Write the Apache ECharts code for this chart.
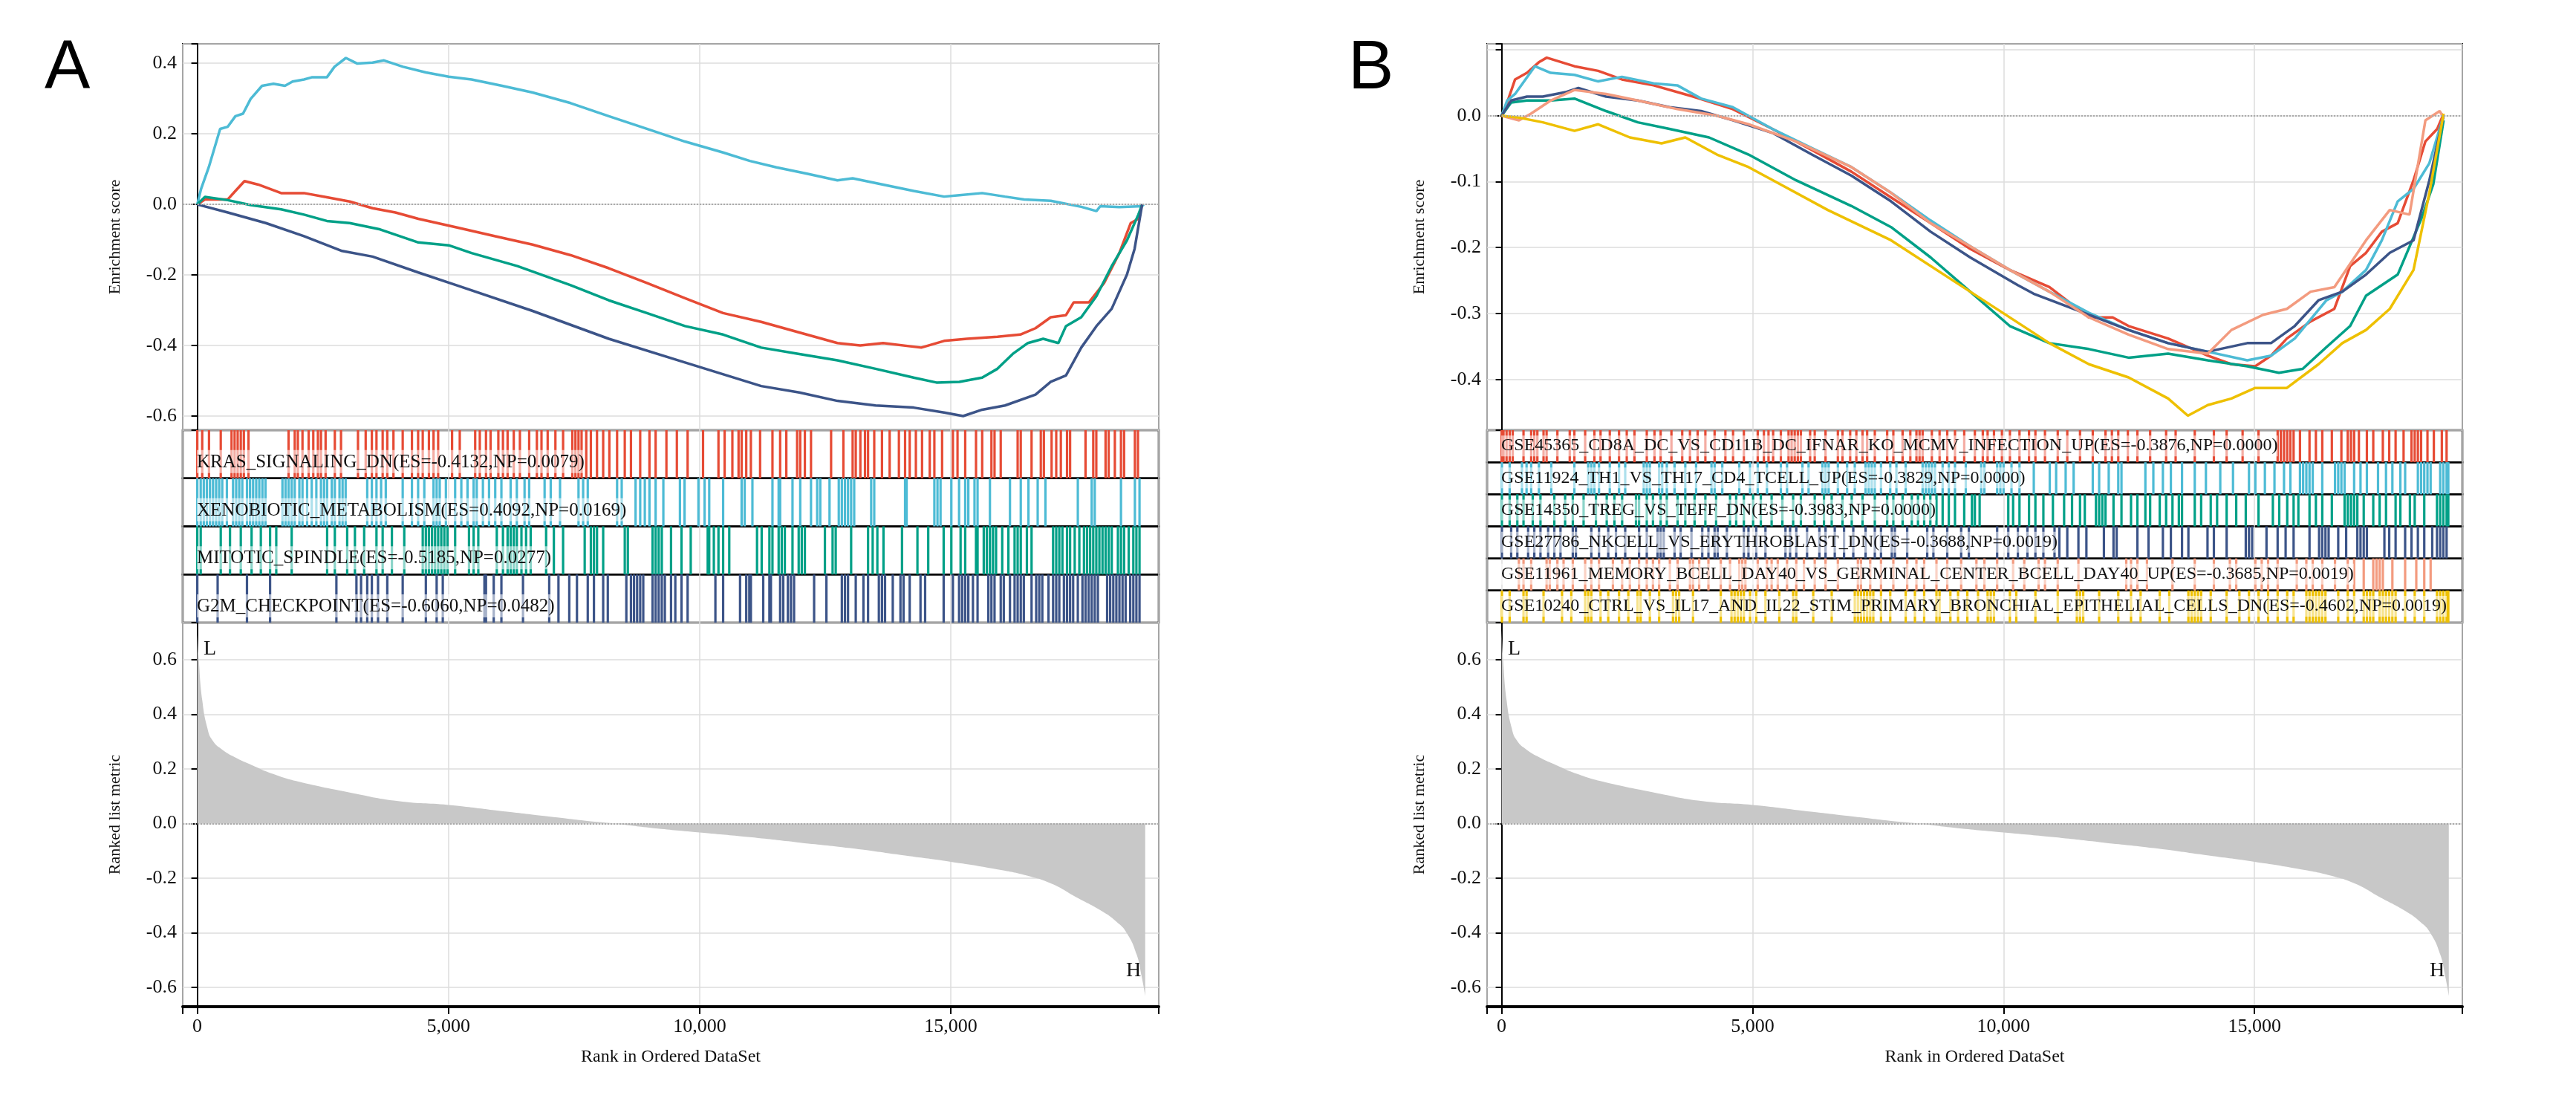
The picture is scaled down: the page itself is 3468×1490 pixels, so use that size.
<!DOCTYPE html>
<html><head><meta charset="utf-8">
<script src="https://cdn.jsdelivr.net/npm/echarts@6/dist/echarts.min.js"></script>
<style>html,body{margin:0;padding:0;background:#fff}#c{width:3468px;height:1490px}</style>
</head><body><div id="c"></div>
<script>
// ---------- DATA ----------
const xTicks = [0, 5000, 10000, 15000];
const esTicksA = ["-0.6","-0.4","-0.2","0.0","0.2","0.4"];
const esTicksB = ["-0.4","-0.3","-0.2","-0.1","0.0"];
const rankTicks = ["-0.6","-0.4","-0.2","0.0","0.2","0.4","0.6"];
const rankX = [0,30,100,200,300,500,800,1000,1500,2000,3000,4000,5000,6000,7000,8000,8300,9000,10000,11000,12000,13000,14000,15000,16000,16500,17000,17500,18000,18300,18500,18700,18800,18870];
const rankY = [0.71,0.6,0.45,0.35,0.305,0.27,0.238,0.221,0.182,0.154,0.115,0.082,0.068,0.047,0.026,0.005,0,-0.015,-0.033,-0.05,-0.07,-0.09,-0.115,-0.14,-0.17,-0.19,-0.22,-0.27,-0.32,-0.36,-0.40,-0.48,-0.56,-0.63];

const namesA = ["KRAS_SIGNALING_DN(ES=-0.4132,NP=0.0079)","XENOBIOTIC_METABOLISM(ES=0.4092,NP=0.0169)","MITOTIC_SPINDLE(ES=-0.5185,NP=0.0277)","G2M_CHECKPOINT(ES=-0.6060,NP=0.0482)"];
const colorsA = ["#E64B35","#4DBBD5","#00A087","#3C5488"];
const esA_kras = [[0,0],[152,0.014],[607,0.014],[759,0.038],[940,0.066],[1214,0.056],[1669,0.032],[2124,0.032],[2579,0.02],[3034,0.008],[3489,-0.011],[3944,-0.023],[4400,-0.041],[5158,-0.065],[5917,-0.09],[6675,-0.114],[7433,-0.144],[8192,-0.181],[8950,-0.223],[9709,-0.266],[10467,-0.308],[11226,-0.333],[11984,-0.363],[12743,-0.393],[13198,-0.4],[13653,-0.393],[14412,-0.406],[14867,-0.387],[15322,-0.381],[15929,-0.375],[16384,-0.369],[16687,-0.351],[16990,-0.32],[17293,-0.314],[17445,-0.278],[17749,-0.278],[18052,-0.223],[18355,-0.138],[18583,-0.053],[18734,-0.041],[18810,0.0]];
const esA_xeno = [[0,0],[76,0.044],[228,0.105],[455,0.214],[607,0.22],[759,0.25],[910,0.257],[1062,0.299],[1289,0.336],[1517,0.342],[1745,0.336],[1896,0.348],[2124,0.354],[2276,0.36],[2579,0.36],[2731,0.39],[2958,0.415],[3186,0.399],[3489,0.402],[3717,0.408],[4096,0.39],[4551,0.374],[5006,0.362],[5461,0.354],[6068,0.336],[6675,0.317],[7433,0.287],[8192,0.25],[8950,0.214],[9709,0.178],[10467,0.147],[11000,0.123],[11529,0.105],[12136,0.087],[12743,0.068],[13046,0.074],[13653,0.056],[14260,0.038],[14867,0.022],[15170,0.026],[15625,0.032],[16080,0.022],[16460,0.014],[16990,0.010],[17597,-0.007],[17900,-0.019],[17976,-0.005],[18355,-0.008],[18810,-0.005],[18840,0.0]];
const esA_mito = [[0,0],[152,0.021],[607,0.012],[1062,-0.002],[1669,-0.014],[2124,-0.029],[2579,-0.047],[3034,-0.053],[3641,-0.071],[4400,-0.108],[5006,-0.116],[5461,-0.138],[6372,-0.175],[7433,-0.229],[8192,-0.272],[8950,-0.308],[9709,-0.345],[10467,-0.369],[11226,-0.406],[11984,-0.424],[12743,-0.442],[13501,-0.466],[14260,-0.491],[14715,-0.505],[15170,-0.503],[15625,-0.491],[15929,-0.466],[16232,-0.424],[16535,-0.393],[16839,-0.381],[17142,-0.393],[17293,-0.345],[17597,-0.32],[17900,-0.26],[18203,-0.175],[18507,-0.102],[18734,-0.029],[18810,0]];
const esA_g2m = [[0,0],[607,-0.023],[1365,-0.053],[2124,-0.09],[2882,-0.132],[3489,-0.148],[4400,-0.193],[5158,-0.229],[6675,-0.302],[8192,-0.381],[9709,-0.448],[11226,-0.515],[11984,-0.533],[12743,-0.557],[13501,-0.57],[14260,-0.576],[14867,-0.59],[15246,-0.6],[15625,-0.582],[16080,-0.57],[16687,-0.539],[16990,-0.503],[17293,-0.485],[17597,-0.406],[17900,-0.345],[18203,-0.296],[18507,-0.199],[18659,-0.126],[18810,0]];

const hitsA_kras = [0,98,233,467,682,743,804,866,927,1019,1817,1940,2002,2094,2217,2309,2401,2462,2554,2738,2861,3199,3352,3475,3567,3690,3782,3905,4089,4273,4396,4488,4611,4703,4795,5072,5225,5532,5624,5747,5839,5993,6085,6177,6300,6422,6607,6760,6852,6975,7129,7282,7466,7528,7589,7650,7743,7835,7957,8080,8203,8357,8510,8633,8817,9001,9124,9339,9547,9761,10068,10375,10498,10652,10775,10836,10928,11020,11204,11450,11603,11726,11941,12003,12095,12217,12617,12862,13046,13108,13200,13292,13353,13476,13630,13783,13967,14090,14182,14305,14428,14581,14673,14827,15042,15134,15287,15502,15625,15809,15871,15994,16331,16393,16608,16792,16853,17007,17099,17191,17314,17375,17682,17836,17897,18081,18143,18266,18388,18450,18665,18726];
const hitsA_xeno = [0,68,129,190,252,313,375,436,497,589,712,774,835,896,989,1050,1111,1173,1234,1296,1357,1695,1756,1817,1879,1940,2032,2094,2186,2278,2370,2462,2524,2585,2677,2738,2831,2892,2953,3383,3475,3567,3659,3752,4089,4273,4396,4519,4703,4765,4826,4949,5133,5256,5379,5501,5563,5686,5808,5931,6054,6238,6361,6515,6607,6914,7036,7221,7589,7681,7773,8357,8449,8725,8817,8909,9001,9124,9278,9608,9700,9976,10099,10191,10468,10836,10897,11051,11450,11573,11603,11849,12003,12217,12340,12402,12586,12770,12831,12893,12954,13016,13077,13415,13476,14090,14121,14673,14735,14796,15011,15165,15287,15349,15472,15533,15779,16178,16393,16546,16730,16884,17529,17805,17866,18388,18665,18757];
const hitsA_mito = [0,68,467,651,866,1081,1265,1449,1572,1879,2585,2738,2984,3138,3322,3567,3690,3874,4120,4488,4550,4611,4673,4734,4795,4857,4918,4980,5133,5409,5501,5594,5962,6085,6177,6238,6300,6361,6453,6545,6637,6944,7098,7282,7712,7835,7896,7957,8080,8510,8571,9063,9124,9185,9247,9431,9639,9823,10161,10191,10283,10375,10468,10590,11143,11235,11389,11450,11573,11634,11696,11849,11972,12033,12095,12494,12647,12709,13016,13353,13445,13538,13660,14029,14336,14551,14858,15011,15195,15287,15502,15533,15656,15717,15779,15840,15901,16024,16147,16270,16331,16393,16515,16608,17037,17099,17160,17222,17314,17375,17467,17559,17651,17713,17774,17836,17897,17958,18020,18081,18143,18204,18327,18388,18450,18542,18634,18695,18757];
const hitsA_g2m = [0,405,989,1449,2769,3168,3260,3383,3475,3598,3782,4089,4550,4765,4887,5716,5747,5901,6054,6484,7006,7190,7405,7558,7773,7896,8080,8172,8541,8633,8694,8756,8817,8878,9063,9124,9185,9247,9308,9431,9516,9639,9761,10314,10468,10805,10928,10989,11020,11266,11389,11419,11603,11665,11757,11818,11880,12279,12524,12831,12893,12954,13108,13261,13353,13568,13630,13691,13845,13998,14059,14182,14397,14489,14858,15042,15165,15226,15287,15349,15441,15533,15748,15809,15871,15994,16055,16178,16270,16331,16393,16454,16608,16700,16761,16822,16945,17037,17099,17160,17252,17314,17375,17436,17529,17621,17682,17744,17805,17866,17928,18112,18173,18235,18296,18357,18419,18480,18572,18634,18695,18757];

const namesB = ["GSE45365_CD8A_DC_VS_CD11B_DC_IFNAR_KO_MCMV_INFECTION_UP(ES=-0.3876,NP=0.0000)","GSE11924_TH1_VS_TH17_CD4_TCELL_UP(ES=-0.3829,NP=0.0000)","GSE14350_TREG_VS_TEFF_DN(ES=-0.3983,NP=0.0000)","GSE27786_NKCELL_VS_ERYTHROBLAST_DN(ES=-0.3688,NP=0.0019)","GSE11961_MEMORY_BCELL_DAY40_VS_GERMINAL_CENTER_BCELL_DAY40_UP(ES=-0.3685,NP=0.0019)","GSE10240_CTRL_VS_IL17_AND_IL22_STIM_PRIMARY_BRONCHIAL_EPITHELIAL_CELLS_DN(ES=-0.4602,NP=0.0019)"];
const colorsB = ["#E64B35","#4DBBD5","#00A087","#3C5488","#F39B7F","#EEC000"];
const esB_1 = [[0,0],[110,0.02],[268,0.055],[505,0.065],[741,0.081],[899,0.088],[1451,0.075],[1924,0.068],[2397,0.055],[3028,0.046],[3816,0.029],[4605,0.01],[5394,-0.02],[6182,-0.052],[6970,-0.085],[7759,-0.124],[8547,-0.163],[9336,-0.202],[10124,-0.234],[10913,-0.26],[11701,-0.306],[12174,-0.306],[12490,-0.319],[13278,-0.338],[14067,-0.364],[14540,-0.377],[15013,-0.38],[15328,-0.364],[15644,-0.338],[16117,-0.312],[16590,-0.293],[16905,-0.228],[17221,-0.208],[17536,-0.176],[17852,-0.163],[18167,-0.098],[18404,-0.039],[18640,-0.02],[18766,0.003]];
const esB_2 = [[0,0],[110,0.023],[268,0.033],[662,0.075],[978,0.065],[1451,0.062],[1924,0.052],[2397,0.059],[3028,0.049],[3501,0.046],[3974,0.026],[4605,0.013],[5394,-0.02],[6182,-0.049],[6970,-0.078],[7759,-0.117],[8547,-0.159],[9336,-0.198],[10124,-0.234],[10913,-0.267],[11701,-0.299],[12490,-0.325],[13278,-0.345],[14067,-0.358],[14855,-0.371],[15328,-0.364],[15801,-0.338],[16432,-0.28],[16748,-0.267],[17221,-0.234],[17536,-0.189],[17852,-0.13],[18167,-0.111],[18483,-0.072],[18766,0]];
const esB_3 = [[0,0],[189,0.02],[505,0.023],[978,0.023],[1451,0.026],[2082,0.007],[2712,-0.01],[3343,-0.02],[4132,-0.033],[4920,-0.059],[5866,-0.098],[6970,-0.137],[7759,-0.169],[8547,-0.215],[9336,-0.267],[10124,-0.319],[10913,-0.345],[11701,-0.354],[12490,-0.367],[13278,-0.361],[14067,-0.371],[14855,-0.38],[15486,-0.39],[15959,-0.384],[16432,-0.351],[16905,-0.319],[17221,-0.273],[17852,-0.241],[18325,-0.156],[18561,-0.104],[18766,-0.007]];
const esB_4 = [[0,0],[189,0.023],[505,0.029],[820,0.029],[1293,0.036],[1530,0.042],[2082,0.029],[2712,0.023],[3343,0.013],[3974,0.007],[4605,-0.007],[5394,-0.026],[6182,-0.059],[6970,-0.091],[7759,-0.13],[8547,-0.176],[9336,-0.215],[10282,-0.257],[10598,-0.27],[11701,-0.302],[12490,-0.325],[13278,-0.345],[14067,-0.358],[14855,-0.345],[15328,-0.345],[15801,-0.319],[16274,-0.28],[16748,-0.267],[17221,-0.241],[17694,-0.208],[18167,-0.189],[18483,-0.098],[18766,0]];
const esB_5 = [[0,0],[347,-0.007],[584,0.003],[978,0.023],[1451,0.039],[2082,0.033],[2712,0.023],[3501,0.01],[4290,0],[4920,-0.013],[5866,-0.039],[6970,-0.078],[7759,-0.117],[8547,-0.163],[9336,-0.198],[10124,-0.234],[10913,-0.267],[11701,-0.306],[12490,-0.332],[13278,-0.354],[14067,-0.361],[14540,-0.325],[15170,-0.302],[15644,-0.293],[16117,-0.267],[16590,-0.26],[17221,-0.189],[17694,-0.143],[18088,-0.15],[18404,-0.007],[18688,0.007],[18766,-0.003]];
const esB_6 = [[0,0],[347,-0.003],[820,-0.01],[1451,-0.023],[1924,-0.013],[2555,-0.033],[3186,-0.042],[3659,-0.033],[4290,-0.059],[4920,-0.078],[5551,-0.104],[6497,-0.143],[7759,-0.189],[9336,-0.267],[10913,-0.345],[11701,-0.377],[12490,-0.397],[13278,-0.429],[13672,-0.455],[14067,-0.439],[14540,-0.429],[15013,-0.413],[15644,-0.413],[16274,-0.377],[16748,-0.345],[17221,-0.325],[17694,-0.293],[18167,-0.234],[18483,-0.117],[18766,0.003]];

const hitsB_1 = [0,37,98,160,221,436,589,651,712,835,896,1111,1357,1449,1664,1848,1971,2155,2339,2493,2646,2892,3045,3168,3383,3598,3752,3905,4059,4243,4458,4611,4826,5102,5225,5317,5409,5563,5716,5778,5839,5901,5962,6146,6238,6453,6699,6791,6944,7067,7190,7282,7435,7681,7804,7988,8142,8264,8326,8387,8571,8725,8878,9032,9216,9428,9586,9682,9809,9967,10126,10317,10507,10634,10825,11079,11269,11523,11777,12031,12158,12285,12476,12666,12920,13238,13428,13809,14190,14444,14762,15079,15460,15524,15587,15651,15714,15778,15905,16095,16222,16349,16540,16730,16857,16921,16984,17079,17238,17365,17556,17683,17810,17969,18127,18191,18254,18318,18445,18572,18731,18826];
const hitsB_2 = [6,160,405,497,589,743,989,1449,1725,1787,1848,1940,2155,2339,2462,2831,2892,2953,3138,3199,3291,3445,3659,3874,4181,4243,4396,4734,4949,5102,5286,5563,5686,5993,6115,6392,6453,6515,6699,6883,7036,7251,7313,7374,7435,7558,7742,7865,8050,8387,8449,8510,8571,8633,8786,8909,9032,9247,9555,9618,9872,9936,9999,10158,10317,10602,10920,11047,11237,11396,11777,11904,12095,12285,12349,12825,12984,13174,13333,13555,13809,14031,14317,14571,14889,15016,15206,15397,15587,15714,15905,15968,16032,16095,16159,16349,16603,16667,16730,16794,16984,17111,17238,17460,17619,17746,17905,18000,18254,18318,18381,18445,18508,18699,18762,18826,18860];
const hitsB_3 = [6,160,313,436,620,774,1050,1265,1418,1633,1879,2094,2247,2401,2677,2738,2892,3015,3168,3291,3506,3659,3844,4059,4273,4550,4673,4826,5010,5164,5379,5594,5808,5962,6238,6422,6576,6791,6975,7190,7435,7681,7804,7988,8172,8295,8418,8541,8663,8786,8909,9032,9216,9370,9428,9523,10094,10190,10317,10507,10634,10793,10983,11206,11364,11523,11618,11841,11904,11968,12031,12190,12349,12539,12666,12825,12920,13111,13238,13365,13492,13555,13809,13936,14127,14254,14444,14635,14825,15079,15365,15492,15651,15778,15873,16095,16222,16349,16540,16794,16857,16921,16984,17048,17175,17365,17492,17619,17810,17905,18095,18191,18381,18635,18699,18762,18826,18860];
const hitsB_4 = [6,190,313,528,651,774,927,1050,1173,1418,1480,1787,1940,2124,2278,2462,2738,2892,3107,3168,3230,3445,3567,3782,3997,4120,4243,4304,4488,4826,4918,5072,5256,5655,5747,5870,6085,6330,6453,6637,6822,7006,7251,7435,7558,7773,7835,8080,8479,8602,8878,9155,9308,9872,10094,10285,10475,10634,10793,11015,11111,11269,11491,11650,11999,12190,12253,12666,12888,13174,13333,13555,13682,14063,14190,14444,14825,14889,14952,15238,15460,15619,15778,16095,16286,16349,16413,16476,16667,16825,17048,17111,17175,17238,17587,17683,17810,18000,18127,18254,18381,18540,18635,18699,18762,18826];
const hitsB_5 = [344,436,589,896,958,1111,1234,1418,1664,1787,1940,2217,2401,2554,2738,2892,3015,3138,3352,3506,3752,3813,3936,4120,4366,4550,4734,4795,4857,5102,5286,5379,5501,5686,5870,6023,6238,6453,6699,7098,7159,7343,7558,7804,8080,8264,8418,8663,8878,9155,9459,9618,9872,10190,10412,10698,10825,11079,11491,12444,12539,12666,12857,13365,13809,14190,14508,14635,15016,15143,15270,15460,15841,16032,16159,16349,16603,16857,16984,17175,17365,17429,17492,17556,17746,18000,18222,18381,18508];
const hitsB_6 = [6,160,436,497,835,1203,1388,1664,1725,1787,1971,2124,2339,2524,2708,2769,2953,3138,3414,3475,3537,3813,4366,4580,4642,4703,4765,4826,4949,5072,5256,5532,5808,5870,6208,6576,7036,7098,7159,7221,7282,7343,7405,7558,7742,8050,8234,8418,8663,8725,8940,9093,9278,9491,9682,9745,9809,10126,10253,10634,11079,11460,11523,11587,11904,12285,12539,12730,13111,13301,13682,13746,13809,13873,13936,14127,14444,14698,14889,15079,15270,15460,15651,15778,16032,16095,16159,16222,16286,16349,16413,16667,16857,16984,17175,17238,17302,17365,17492,17556,17619,17683,17746,17810,18000,18191,18381,18635,18699,18762,18826,18860];

// ---------- LAYOUT ----------
const SERIF = '"Liberation Serif","Times New Roman",serif';
const XMIN = -290, XMAX = 19140;
const ES_TOP = 59, ES_H = 520, STR_TOP = 579, STR_H = 259, RK_TOP = 838, RK_H = 517;
const panels = [
  {left:246, width:1314, es:[esA_kras,esA_xeno,esA_mito,esA_g2m], hits:[hitsA_kras,hitsA_xeno,hitsA_mito,hitsA_g2m], names:namesA, colors:colorsA, ymin:-0.64, ymax:0.455, ticks:esTicksA, letter:'A', lx:60, fs:25},
  {left:2002, width:1313, es:[esB_1,esB_2,esB_3,esB_4,esB_5,esB_6], hits:[hitsB_1,hitsB_2,hitsB_3,hitsB_4,hitsB_5,hitsB_6], names:namesB, colors:colorsB, ymin:-0.477, ymax:0.109, ticks:esTicksB, letter:'B', lx:1815, fs:24}
];

const grid=[], xAxis=[], yAxis=[], series=[], graphic=[];
function fmtList(list){return v=>{const s=(Math.abs(v)<1e-9?0:v).toFixed(1); return list.includes(s)&&Math.abs(v-parseFloat(s))<1e-6 ? s : '';};}
const axisLab = {fontFamily:SERIF, fontSize:26, color:'#111'};
const gridLine = {show:true, lineStyle:{color:'#dcdcdc', width:1.5}};

panels.forEach(p=>{
  let gi = grid.length;
  grid.push({left:p.left, top:ES_TOP, width:p.width, height:ES_H, show:true, borderColor:'#000', borderWidth:2});
  xAxis.push({gridIndex:gi, type:'value', min:XMIN, max:XMAX, splitNumber:4, axisLabel:{show:false}, axisTick:{show:false}, axisLine:{show:false}, splitLine:gridLine});
  yAxis.push({gridIndex:gi, type:'value', min:p.ymin, max:p.ymax, splitNumber:6, name:'Enrichment score', nameLocation:'middle', nameGap:80,
    nameTextStyle:{fontFamily:SERIF, fontSize:22, color:'#111'},
    axisLine:{show:true, lineStyle:{color:'#000', width:2}}, axisTick:{show:true, length:8, lineStyle:{color:'#000', width:2}},
    axisLabel:Object.assign({formatter:fmtList(p.ticks), margin:8}, axisLab), splitLine:gridLine});
  p.es.forEach((d,i)=>series.push({type:'line', xAxisIndex:gi, yAxisIndex:gi, data:d, showSymbol:false, smooth:false, z:3+i*0.1,
    lineStyle:{color:p.colors[i], width:3.5}, itemStyle:{color:p.colors[i]},
    markLine:i===0?{silent:true, symbol:'none', label:{show:false}, lineStyle:{color:'#aaa', type:'dotted', width:2}, data:[{yAxis:0}]}:undefined}));
  const n = p.hits.length, sh = STR_H/n;
  p.hits.forEach((h,i)=>{
    const g = grid.length, top = STR_TOP + i*sh;
    grid.push({left:p.left, top:top, width:p.width, height:sh, show:true, borderColor:'#000', borderWidth:2.5});
    xAxis.push({gridIndex:g, type:'value', min:XMIN, max:XMAX, splitNumber:4, axisLabel:{show:false}, axisTick:{show:false}, axisLine:{show:false}, splitLine:gridLine});
    yAxis.push({gridIndex:g, type:'value', min:0, max:1, show:false, splitLine:{show:false}});
    series.push({type:'custom', xAxisIndex:g, yAxisIndex:g, data:h.map(v=>[v]), z:2,
      renderItem:(params, api)=>{const a=api.coord([api.value(0),0]), b=api.coord([api.value(0),1]);
        return {type:'rect', shape:{x:a[0]-1.6, y:b[1], width:3.2, height:a[1]-b[1]}, style:{fill:p.colors[i]}};}});
    graphic.push({type:'text', left:p.left+19, top:top + sh - (n===4?38:36), z:100,
      style:{text:p.names[i], font:p.fs+'px '+SERIF, fill:'#111', backgroundColor:'rgba(255,255,255,0.55)', padding:[n===4?4:2,0,2,0]}});
  });
  const r = grid.length;
  grid.push({left:p.left, top:RK_TOP, width:p.width, height:RK_H, show:true, borderColor:'#000', borderWidth:2});
  xAxis.push({gridIndex:r, type:'value', min:XMIN, max:XMAX, splitNumber:4, name:'Rank in Ordered DataSet', nameLocation:'middle', nameGap:56,
    nameTextStyle:{fontFamily:SERIF, fontSize:24, color:'#111'},
    axisLine:{show:true, onZero:false, lineStyle:{color:'#000', width:4}}, axisTick:{show:true, length:10, lineStyle:{color:'#000', width:2}},
    axisLabel:Object.assign({margin:14, formatter:v=>xTicks.includes(v)? v.toLocaleString('en-US'):''}, axisLab), splitLine:gridLine});
  yAxis.push({gridIndex:r, type:'value', min:-0.671, max:0.736, splitNumber:7, name:'Ranked list metric', nameLocation:'middle', nameGap:80,
    nameTextStyle:{fontFamily:SERIF, fontSize:22, color:'#111'},
    axisLine:{show:true, lineStyle:{color:'#000', width:2}}, axisTick:{show:true, length:8, lineStyle:{color:'#000', width:2}},
    axisLabel:Object.assign({formatter:fmtList(rankTicks), margin:8}, axisLab), splitLine:gridLine});
  series.push({type:'line', xAxisIndex:r, yAxisIndex:r, data:rankX.map((x,k)=>[x,rankY[k]]), showSymbol:false, smooth:true,
    lineStyle:{width:0}, areaStyle:{color:'#c8c8c8', opacity:1}, itemStyle:{color:'#c8c8c8'},
    markLine:{silent:true, symbol:'none', label:{show:false}, lineStyle:{color:'#aaa', type:'dotted', width:2}, data:[{yAxis:0}]}});
  graphic.push({type:'text', left:p.left+28, top:RK_TOP+22, style:{text:'L', font:'28px '+SERIF, fill:'#111'}});
  graphic.push({type:'text', left:p.left+p.width-44, top:RK_TOP+RK_H-62, style:{text:'H', font:'28px '+SERIF, fill:'#111'}});
  graphic.push({type:'text', left:p.lx, top:48, style:{text:p.letter, font:'92px "Liberation Sans", Arial, sans-serif', fill:'#000'}});
});

const chart = echarts.init(document.getElementById('c'));
chart.setOption({backgroundColor:'#fff', animation:false, grid, xAxis, yAxis, series, graphic});
</script></body></html>
